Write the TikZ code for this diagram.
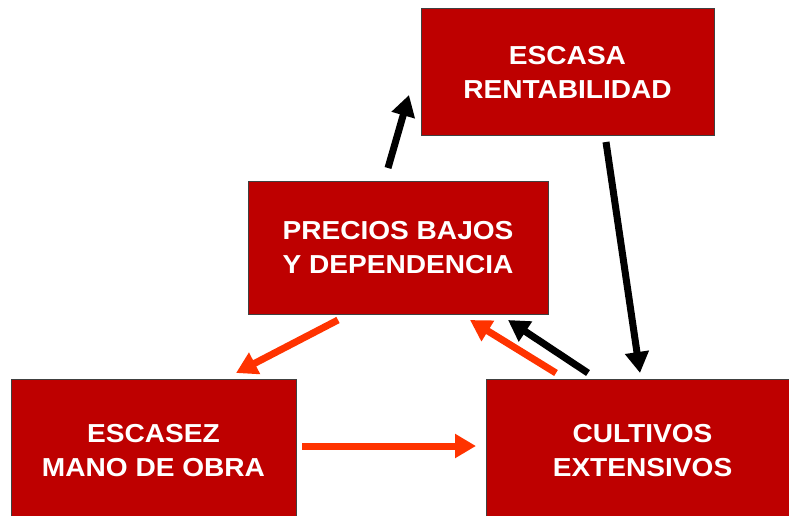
\documentclass[tikz,border=0pt]{standalone}
\usepackage{fontspec}
\setmainfont[FakeStretch=1.08]{Liberation Sans}
\usetikzlibrary{arrows.meta}
\definecolor{boxred}{RGB}{190,0,0}
\definecolor{arrred}{RGB}{255,51,0}
\begin{document}
\begin{tikzpicture}[x=1pt,y=-1pt,
  box/.style={draw=black!75,line width=1pt,fill=boxred,text=white,
    font=\fontsize{26}{34}\selectfont\bfseries,align=center,inner sep=0pt},
  blackarrow/.style={draw=black,line width=7pt,-{Triangle[width=23pt,length=21pt]}},
  redarrow/.style={draw=arrred,line width=7pt,-{Triangle[width=23pt,length=21pt]}}]
\useasboundingbox (0,0) rectangle (789,516);
\begin{scope}
\clip (0,0) rectangle (789,516);
\node[box,minimum width=293pt,minimum height=126pt] (R) at (567.5,72) {ESCASA\\RENTABILIDAD};
\node[box,minimum width=300pt,minimum height=133pt] (P) at (398,247.5) {PRECIOS BAJOS\\Y DEPENDENCIA};
\node[box,minimum width=285pt,minimum height=144pt] (E) at (153.5,451) {ESCASEZ\\MANO DE OBRA};
\node[box,minimum width=313pt,minimum height=144pt] (C) at (642.5,451) {CULTIVOS\\EXTENSIVOS};
\end{scope}
% connector end points
\coordinate (p1) at (388,168);  \coordinate (r1) at (409,95);
\coordinate (r2) at (606,142);  \coordinate (c2) at (640,373);
\coordinate (c3) at (588,373);  \coordinate (p3) at (508,320);
\coordinate (c4) at (556,373);  \coordinate (p4) at (470,320);
\coordinate (p5) at (338,320);  \coordinate (e5) at (236,373);
\coordinate (e6) at (302,446);  \coordinate (c6) at (476,446);
\draw[blackarrow] (p1) -- (r1);
\draw[blackarrow] (r2) -- (c2);
\draw[blackarrow] (c3) -- (p3);
\draw[redarrow] (c4) -- (p4);
\draw[redarrow] (p5) -- (e5);
\draw[redarrow] (e6) -- (c6);
\end{tikzpicture}
\end{document}
